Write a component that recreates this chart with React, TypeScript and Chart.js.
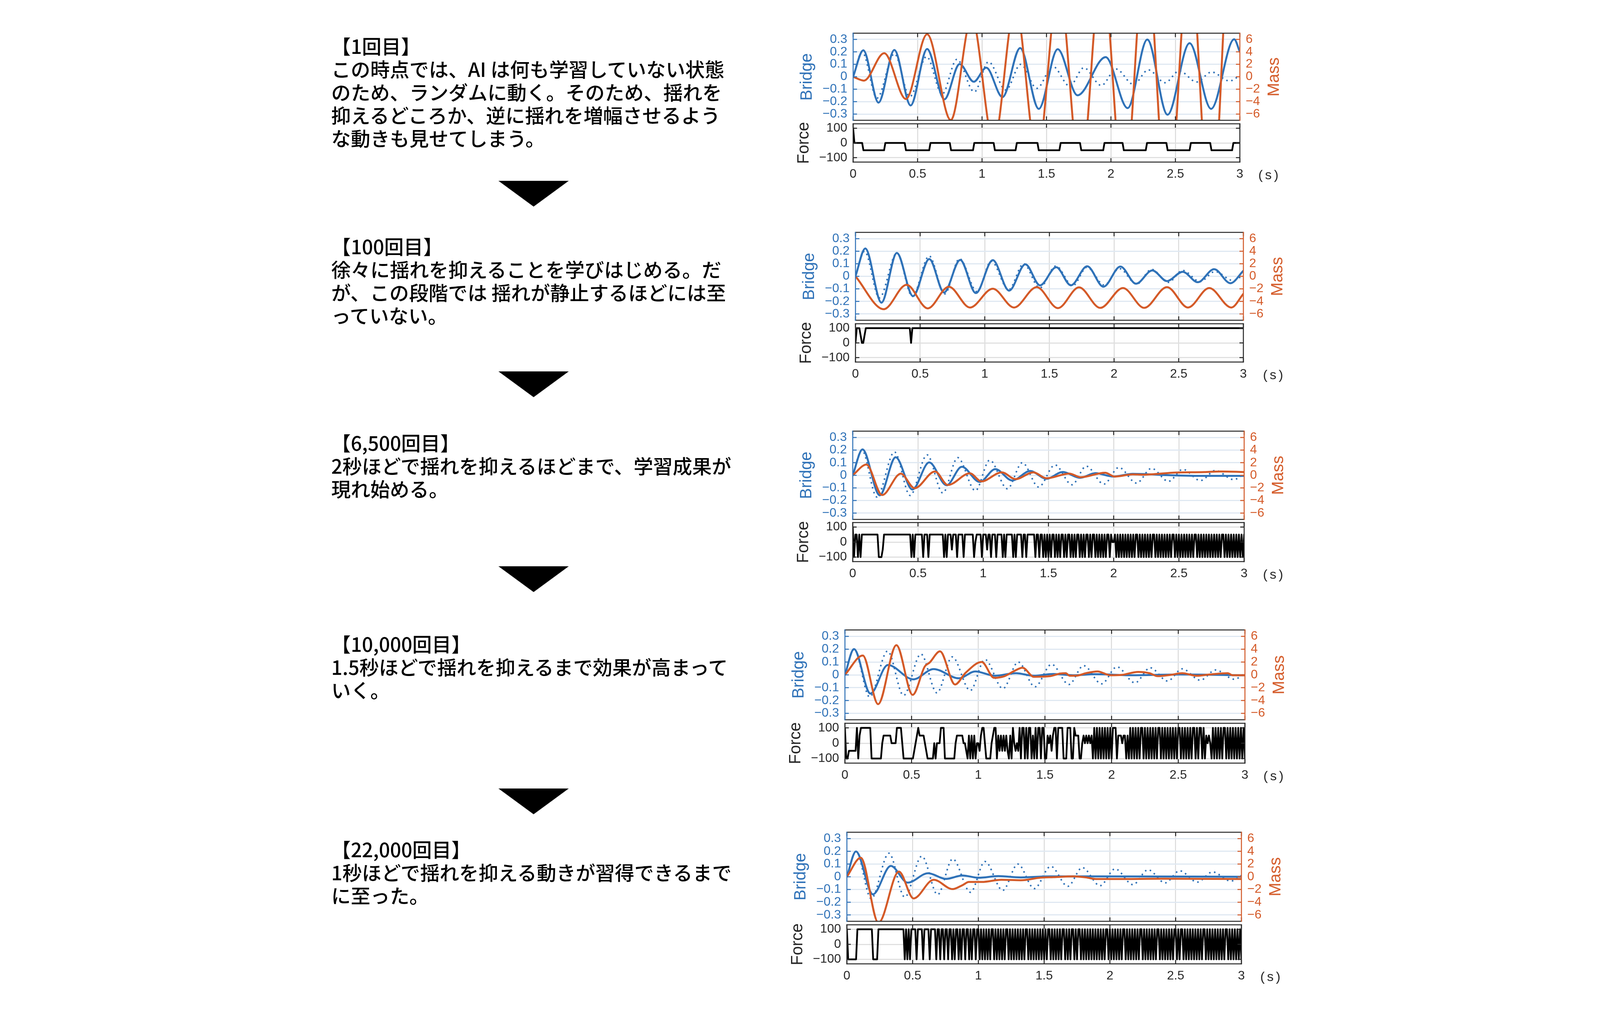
import React, { useEffect, useRef } from "react";
import { Chart, registerables } from "chart.js";

Chart.register(...registerables);

type Pt = [number, number];

// ---------------- data ----------------
const TIME_TICKS = [0, 0.5, 1, 1.5, 2, 2.5, 3];
const BRIDGE_TICKS = [-0.3, -0.2, -0.1, 0, 0.1, 0.2, 0.3];
const MASS_TICKS = [-6, -4, -2, 0, 2, 4, 6];
const FORCE_TICKS = [-100, 0, 100];
const TIME_RANGE = [0, 3];
const BRIDGE_RANGE = [-0.35, 0.35];
const MASS_RANGE = [-7, 7];
const FORCE_RANGE = [-130, 130];
const FORCE_SAMPLE_DT = 0.01;
const FORCE_LEVELS: Record<string, number> = { H: 100, h: 50, Z: 0, l: -50, L: -100 };

// bridge response without control (dotted, same in every panel)
const UNCONTROLLED: Pt[] = [
  [0, 0], [0.07, 0.2], [0.185, -0.172], [0.32, 0.185], [0.44, -0.16], [0.57, 0.162],
  [0.69, -0.14], [0.805, 0.14], [0.94, -0.122], [1.05, 0.12], [1.185, -0.107], [1.3, 0.1],
  [1.425, -0.093], [1.55, 0.082], [1.68, -0.075], [1.79, 0.072], [1.925, -0.07], [2.04, 0.062],
  [2.175, -0.062], [2.29, 0.055], [2.42, -0.048], [2.53, 0.047], [2.665, -0.042], [2.78, 0.038],
  [2.92, -0.034], [3.0, 0.01],
];

// trial 1
const BRIDGE_1: Pt[] = [
  [0, 0], [0.079, 0.213], [0.197, -0.208], [0.32, 0.215], [0.446, -0.231], [0.574, 0.223],
  [0.708, -0.182], [0.826, 0.102], [0.936, -0.04], [1.033, 0.073], [1.159, -0.164], [1.296, 0.231],
  [1.44, -0.258], [1.587, 0.221], [1.741, -0.149], [1.959, 0.158], [2.13, -0.252], [2.282, 0.299],
  [2.439, -0.305], [2.61, 0.27], [2.777, -0.258], [2.956, 0.301], [3.0, 0.2],
];
const MASS_1: Pt[] = [
  [0, 0], [0.084, -0.62], [0.241, 3.78], [0.41, -3.58], [0.574, 6.82], [0.758, -6.96],
  [0.92, 9.5], [1.09, -10.5], [1.258, 11.5], [1.428, -13], [1.595, 15], [1.764, -16],
  [1.93, 18], [2.1, -19], [2.27, 21], [2.44, -22], [2.61, 20], [2.775, -24], [2.94, 26], [3.0, 14],
];
const FORCE_1 = [
  "HZZZZZZZll", "llllllllll", "lllllZZZZZ", "ZZZZZZZZZZ", "Zlllllllll", "llllllllll",
  "ZZZZZZZZZZ", "ZZZZZZllll", "llllllllll", "llllZZZZZZ", "ZZZZZZZZZZ", "llllllllll",
  "lllllllZZZ", "ZZZZZZZZZZ", "ZZZZllllll", "llllllllll", "lZZZZZZZZZ", "ZZZZZZZlll",
  "llllllllll", "lllllZZZZZ", "ZZZZZZZZZZ", "llllllllll", "llllllllZZ", "ZZZZZZZZZZ",
  "ZZZZllllll", "llllllllll", "llZZZZZZZZ", "ZZZZZZZZll", "llllllllll", "lllllZZZZZ", "Z",
].join("");

// trial 100
const BRIDGE_2: Pt[] = [
  [0, 0], [0.076, 0.222], [0.201, -0.21], [0.32, 0.186], [0.445, -0.158], [0.571, 0.138],
  [0.685, -0.129], [0.81, 0.131], [0.931, -0.134], [1.062, 0.129], [1.188, -0.114], [1.314, 0.096],
  [1.427, -0.072], [1.553, 0.072], [1.666, -0.072], [1.792, 0.08], [1.918, -0.083], [2.049, 0.078],
  [2.17, -0.059], [2.296, 0.047], [2.409, -0.038], [2.53, 0.036], [2.648, -0.047], [2.774, 0.057],
  [2.9, -0.055], [3.0, 0.044],
];
const MASS_2: Pt[] = [
  [0, 0], [0.219, -5.24], [0.395, -1.35], [0.559, -5.11], [0.722, -1.66], [0.886, -4.97],
  [1.062, -1.97], [1.226, -4.97], [1.402, -1.72], [1.566, -5.07], [1.729, -1.76], [1.893, -5.03],
  [2.069, -1.86], [2.233, -5.03], [2.409, -1.72], [2.572, -4.97], [2.736, -1.86], [2.907, -4.97],
  [3.0, -2.8],
];
const FORCE_2 = [
  "ZHHHhZZhHH", "HHHHHHHHHH", "HHHHHHHHHH", "HHHHHHHHHH", "HHHZHHHHHH", "HHHHHHHHHH",
  "HHHHHHHHHH", "HHHHHHHHHH", "HHHHHHHHHH", "HHHHHHHHHH", "HHHHHHHHHH", "HHHHHHHHHH",
  "HHHHHHHHHH", "HHHHHHHHHH", "HHHHHHHHHH", "HHHHHHHHHH", "HHHHHHHHHH", "HHHHHHHHHH",
  "HHHHHHHHHH", "HHHHHHHHHH", "HHHHHHHHHH", "HHHHHHHHHH", "HHHHHHHHHH", "HHHHHHHHHH",
  "HHHHHHHHHH", "HHHHHHHHHH", "HHHHHHHHHH", "HHHHHHHHHH", "HHHHHHHHHH", "HHHHHHHHHH", "H",
].join("");

// trial 6,500
const BRIDGE_3: Pt[] = [
  [0, 0], [0.075, 0.205], [0.207, -0.159], [0.329, 0.143], [0.457, -0.113], [0.586, 0.102],
  [0.719, -0.079], [0.836, 0.067], [0.973, -0.053], [1.093, 0.049], [1.223, -0.041], [1.36, 0.034],
  [1.485, -0.028], [1.61, 0.026], [1.742, -0.02], [1.86, 0.017], [1.997, -0.01], [2.146, 0.012],
  [2.446, 0.0], [2.695, -0.005], [3.0, -0.005],
];
const MASS_3: Pt[] = [
  [0, 0], [0.105, 1.7], [0.225, -3.13], [0.369, 0.27], [0.474, -2.05], [0.631, 0.61],
  [0.729, -1.54], [0.898, 0.31], [0.986, -0.96], [1.143, 0.47], [1.248, -0.61], [1.385, 0.47],
  [1.485, -0.47], [1.66, 0.27], [1.747, -0.31], [1.934, 0.41], [2.009, -0.2], [2.146, 0.14],
  [2.22, 0.1], [2.32, 0.2], [2.446, 0.41], [2.695, 0.51], [2.82, 0.61], [3.0, 0.51],
];
const FORCE_3 = [
  "HLhhLhLhhh", "hhhhhhhhhh", "LLLlhhhhhh", "hhhhhhhhhh", "hhhhhLhLhh", "hhhhLhhhLh",
  "hhhhhhhhhh", "LhLhhhlhhh", "LhhhhLhhhh", "hhhLZhhhhL", "hhhlhhLhhh", "LhhhhLhLhh",
  "hhhLhLhhhh", "LhhLhhhhhh", "LhhLhhLhLh", "LhLhhLhLhL", "hhLhLhhLhL", "hLhhLhLhLh",
  "hLhLhhLhLh", "LhLhLhhLhZ", "ZhLhLhLhLh", "LhLhLhLhhL", "hLhLhLhLhL", "hhLhLhLhLh",
  "LhLhLhhLhL", "hLhLhLhLhL", "hLhhLhLhLh", "LhLhLhLhLh", "LhLhhLhLhL", "hLhLhLhLhL", "h",
].join("");

// trial 10,000
const BRIDGE_4: Pt[] = [
  [0, 0], [0.068, 0.201], [0.191, -0.146], [0.322, 0.077], [0.513, -0.035], [0.665, 0.045],
  [0.855, -0.027], [0.977, 0.027], [1.124, -0.007], [1.283, 0.013], [1.417, -0.007], [1.564, 0.007],
  [1.71, -0.003], [1.88, 0.005], [2.15, -0.003], [2.517, 0.003], [3.0, -0.003],
];
const MASS_4: Pt[] = [
  [0, 0], [0.134, 3.02], [0.249, -4.56], [0.386, 4.62], [0.508, -3.12], [0.599, 1.31],
  [0.635, 1.91], [0.713, 3.66], [0.826, -1.51], [0.904, 0.3], [1.026, 2.01], [1.119, -0.46],
  [1.197, -0.2], [1.27, 0.6], [1.332, 1.11], [1.417, -0.3], [1.539, -0.2], [1.613, 0.2],
  [1.656, 0.26], [1.686, -0.14], [1.735, -0.14], [1.808, 0.26], [1.894, 0.54], [1.991, -0.06],
  [2.077, 0], [2.199, 0.46], [2.284, 0.26], [2.345, -0.2], [2.443, 0], [2.529, 0.26],
  [2.639, -0.14], [2.736, 0.06], [2.871, 0.26], [2.907, -0.06], [3.0, -0.06],
];
const FORCE_4 = [
  "HLLllllllH", "LhHHHHHHHH", "LLLLLLLLZh", "hhhhhZZZZH", "HHHZLLLLLL", "LLlZhHhhhh",
  "ZlLLLLLZLZ", "ZZHHHLLLLL", "LLLZhhhhhZ", "ZlLhLhLhLZ", "ZlhHHZLLLL", "ZhHHLhlhlh",
  "lhlLhLHZlZ", "lHLHHLHLHH", "LhLHLHHLHH", "LLhZhlhHHL", "HHHHLLLHHH", "LLHhhhLLZh",
  "ZhZhZhLHLH", "LHLHLHLHLH", "LHHHLhhhZh", "hLhLHLHLHL", "HLHHLHLHLH", "LHLHLHHLHL",
  "HLHLHLHLHL", "HHLHLHLHLH", "LHHLHLHHLH", "LhZhZLHLHL", "HLHLHHLHLH", "LHLHLHLHLH", "L",
].join("");

// trial 22,000
const BRIDGE_5: Pt[] = [
  [0, 0], [0.069, 0.199], [0.198, -0.138], [0.334, 0.085], [0.463, -0.046], [0.618, 0.028],
  [0.754, -0.017], [0.878, 0.01], [1.002, -0.008], [1.15, 0.005], [1.323, -0.005], [1.546, 0.003],
  [1.917, 0.003], [3.0, 0],
];
const MASS_5: Pt[] = [
  [0, 0], [0.106, 3.0], [0.24, -7.24], [0.396, 0.82], [0.507, -3.41], [0.66, -0.47],
  [0.804, -1.94], [0.878, -1.33], [0.928, -0.82], [1.026, -0.82], [1.175, -0.47], [1.323, -0.55],
  [1.472, -0.14], [1.571, -0.06], [1.719, 0.06], [1.818, -0.1], [1.892, -0.35], [2.164, -0.35],
  [2.411, -0.31], [3.0, -0.35],
];
const FORCE_5 = [
  "HLLLLLLLHH", "HHHHHHHHHH", "LLLLHHHHHH", "HHHHHHHHHH", "HHHHLHLHLH", "HHHLHHHHLH",
  "HHHLHHHHLH", "HLHHLHHLHH", "LHLHHLHLHH", "LHHLHLHHLH", "HLHLHLHLHL", "HHLHLHLHLH",
  "LHHLHLHLHL", "HLHLHLHHLH", "LHLHLHLHLH", "LHLHHLHLHL", "HLHLHHLHLH", "LHHLHLHHLH",
  "LHLHLHLHLH", "LHLHLHLHHL", "HLHLHLHLHL", "HHLHLHLHLH", "LHLHHLHLHL", "HLHLHLHHLH",
  "LHLHLHLHLH", "HLHLHHLHLH", "LHLHLHLHLH", "LHHLHLHLHL", "HLHLHLHLHH", "LHLHLHLHLH", "L",
].join("");

const TEXT_1 = [
  "【1回目】",
  "この時点では、AI は何も学習していない状態",
  "のため、ランダムに動く。そのため、揺れを",
  "抑えるどころか、逆に揺れを増幅させるよう",
  "な動きも見せてしまう。",
];
const TEXT_2 = [
  "【100回目】",
  "徐々に揺れを抑えることを学びはじめる。だ",
  "が、この段階では 揺れが静止するほどには至",
  "っていない。",
];
const TEXT_3 = ["【6,500回目】", "2秒ほどで揺れを抑えるほどまで、学習成果が", "現れ始める。"];
const TEXT_4 = ["【10,000回目】", "1.5秒ほどで揺れを抑えるまで効果が高まって", "いく。"];
const TEXT_5 = ["【22,000回目】", "1秒ほどで揺れを抑える動きが習得できるまで", "に至った。"];

const AXIS_TITLES = { bridge: "Bridge", mass: "Mass", force: "Force", unit: "(s)" };

// ---------------- styles / layout ----------------
const BLUE = "#2f72b8";
const ORANGE = "#d45a28";
const DARK = "#262626";
const GRID_BLUE = "#dfe8f2";
const GRID_GRAY = "#dadada";
const GRID_FORCE = "#e0e0e0";
const TICK_FONT = { family: "'Liberation Sans', Arial, sans-serif", size: 32 };
const AXW = 150;
const PADV = 20;
const XAXH = 70;

type Geo = { L: number; R: number; T1: number; B1: number; T2: number; B2: number; sX: number };
type Spec = { geo: Geo; bridge: Pt[]; mass: Pt[]; force: string; text: string[]; textTop: number };

const SPECS: Spec[] = [
  { geo: { L: 2184, R: 3174, T1: 85, B1: 308, T2: 317, B2: 415, sX: 3250 }, bridge: BRIDGE_1, mass: MASS_1, force: FORCE_1, text: TEXT_1, textTop: 87 },
  { geo: { L: 2190, R: 3183, T1: 595, B1: 820, T2: 829, B2: 927, sX: 3262 }, bridge: BRIDGE_2, mass: MASS_2, force: FORCE_2, text: TEXT_2, textTop: 600 },
  { geo: { L: 2183, R: 3185, T1: 1104, B1: 1330, T2: 1338, B2: 1438, sX: 3262 }, bridge: BRIDGE_3, mass: MASS_3, force: FORCE_3, text: TEXT_3, textTop: 1103 },
  { geo: { L: 2163, R: 3187, T1: 1613, B1: 1843, T2: 1852, B2: 1954, sX: 3263 }, bridge: BRIDGE_4, mass: MASS_4, force: FORCE_4, text: TEXT_4, textTop: 1618 },
  { geo: { L: 2168, R: 3178, T1: 2131, B1: 2359, T2: 2368, B2: 2468, sX: 3255 }, bridge: BRIDGE_5, mass: MASS_5, force: FORCE_5, text: TEXT_5, textTop: 2144 },
];
const TRIANGLE_TOPS = [463, 951, 1450, 2019];

const fmt = (v: number | string) => {
  const n = Number(v);
  return n < 0 ? "\u2212" + String(-n) : String(n);
};

const boxPlugin = {
  id: "matBox",
  afterDatasetsDraw(chart: any, _args: any, o: any) {
    const { ctx, chartArea: a, scales } = chart;
    const TL = 10;
    const seg = (x1: number, y1: number, x2: number, y2: number, c: string) => {
      ctx.strokeStyle = c;
      ctx.beginPath();
      ctx.moveTo(x1, y1);
      ctx.lineTo(x2, y2);
      ctx.stroke();
    };
    ctx.save();
    ctx.lineWidth = 2.5;
    ctx.lineCap = "butt";
    const xs = scales.x;
    for (const t of xs.ticks) {
      const px = xs.getPixelForValue(t.value);
      seg(px, a.top, px, a.top + TL, DARK);
      seg(px, a.bottom, px, a.bottom - TL, DARK);
    }
    const yl = scales[o.leftId];
    for (const t of yl.ticks) {
      const py = yl.getPixelForValue(t.value);
      seg(a.left, py, a.left + TL, py, o.leftColor);
    }
    const yr = scales[o.rightId];
    for (const t of yr.ticks) {
      const py = yr.getPixelForValue(t.value);
      seg(a.right, py, a.right - TL, py, o.rightColor);
    }
    ctx.lineCap = "square";
    seg(a.left, a.top, a.right, a.top, DARK);
    seg(a.left, a.bottom, a.right, a.bottom, DARK);
    seg(a.left, a.top, a.left, a.bottom, o.leftColor);
    seg(a.right, a.top, a.right, a.bottom, o.rightColor);
    ctx.restore();
  },
};

const lineDs = (pts: Pt[], axis: string, color: string, width: number) => ({
  data: pts.map(([x, y]) => ({ x, y })),
  yAxisID: axis,
  borderColor: color,
  borderWidth: width,
  pointRadius: 0,
  fill: false,
  cubicInterpolationMode: "monotone",
  borderJoinStyle: "round",
  borderCapStyle: "round",
});

const setTicks = (vals: number[]) => (s: any) => {
  s.ticks = vals.map((v) => ({ value: v }));
};

const xScale = (labels: boolean) => ({
  type: "linear",
  position: "bottom",
  min: TIME_RANGE[0],
  max: TIME_RANGE[1],
  afterBuildTicks: setTicks(TIME_TICKS),
  ticks: {
    display: labels,
    color: DARK,
    font: TICK_FONT,
    padding: 12,
    autoSkip: false,
    maxRotation: 0,
    callback: fmt,
  },
  grid: { color: GRID_GRAY, lineWidth: 2.5, drawTicks: false },
  border: { display: false },
  afterFit: (s: any) => {
    s.height = labels ? XAXH : 0;
    s.paddingLeft = 0;
    s.paddingRight = 0;
  },
});

const yScale = (pos: string, range: number[], ticks: number[], color: string, grid: any) => ({
  type: "linear",
  position: pos,
  min: range[0],
  max: range[1],
  afterBuildTicks: setTicks(ticks),
  ticks: { color, font: TICK_FONT, padding: 15, autoSkip: false, callback: fmt },
  grid,
  border: { display: false },
  afterFit: (s: any) => {
    s.width = AXW;
    s.paddingTop = 0;
    s.paddingBottom = 0;
  },
});

function topConfig(spec: Spec): any {
  return {
    type: "line",
    data: {
      datasets: [
        lineDs(spec.mass, "yM", ORANGE, 5),
        lineDs(spec.bridge, "yB", BLUE, 5),
        { ...lineDs(UNCONTROLLED, "yB", BLUE, 4), borderDash: [4, 9], borderCapStyle: "butt" },
      ],
    },
    options: {
      animation: false,
      responsive: false,
      devicePixelRatio: 1,
      events: [],
      layout: { padding: { top: PADV, bottom: PADV, left: 0, right: 0 } },
      plugins: {
        legend: { display: false },
        tooltip: { enabled: false },
        matBox: { leftId: "yB", rightId: "yM", leftColor: BLUE, rightColor: ORANGE },
      },
      scales: {
        x: xScale(false),
        yB: yScale("left", BRIDGE_RANGE, BRIDGE_TICKS, BLUE, { color: GRID_BLUE, lineWidth: 3, drawTicks: false }),
        yM: yScale("right", MASS_RANGE, MASS_TICKS, ORANGE, { display: false, drawTicks: false }),
      },
    },
    plugins: [boxPlugin],
  };
}

function forceConfig(spec: Spec): any {
  return {
    type: "line",
    data: {
      datasets: [
        {
          data: spec.force.split("").map((c, i) => ({ x: i * FORCE_SAMPLE_DT, y: FORCE_LEVELS[c] })),
          yAxisID: "y",
          borderColor: "#000000",
          borderWidth: 4.5,
          pointRadius: 0,
          fill: false,
          tension: 0,
          borderJoinStyle: "round",
          borderCapStyle: "round",
        },
      ],
    },
    options: {
      animation: false,
      responsive: false,
      devicePixelRatio: 1,
      events: [],
      layout: { padding: { top: PADV, bottom: 0, left: 0, right: AXW } },
      plugins: {
        legend: { display: false },
        tooltip: { enabled: false },
        matBox: { leftId: "y", rightId: "y", leftColor: DARK, rightColor: DARK },
      },
      scales: {
        x: xScale(true),
        y: yScale("left", FORCE_RANGE, FORCE_TICKS, DARK, { color: GRID_FORCE, lineWidth: 3, drawTicks: false }),
      },
    },
    plugins: [boxPlugin],
  };
}

const titleStyle = (cx: number, cy: number, color: string): React.CSSProperties => ({
  position: "absolute",
  left: cx,
  top: cy,
  transform: "translate(-50%, -50%) rotate(-90deg)",
  font: "42px 'Liberation Sans', Arial, sans-serif",
  lineHeight: "1",
  color,
  whiteSpace: "nowrap",
});

function TrialChart({ spec }: { spec: Spec }) {
  const topRef = useRef<HTMLCanvasElement>(null);
  const botRef = useRef<HTMLCanvasElement>(null);
  useEffect(() => {
    const c1 = new Chart(topRef.current as HTMLCanvasElement, topConfig(spec));
    const c2 = new Chart(botRef.current as HTMLCanvasElement, forceConfig(spec));
    return () => {
      c1.destroy();
      c2.destroy();
    };
  }, [spec]);
  const g = spec.geo;
  const w = g.R - g.L + 2 * AXW;
  const h1 = g.B1 - g.T1 + 2 * PADV;
  const h2 = g.B2 - g.T2 + PADV + XAXH;
  return (
    <>
      <canvas
        ref={topRef}
        width={w}
        height={h1}
        style={{ position: "absolute", left: g.L - AXW, top: g.T1 - PADV, width: w, height: h1, display: "block" }}
      />
      <canvas
        ref={botRef}
        width={w}
        height={h2}
        style={{ position: "absolute", left: g.L - AXW, top: g.T2 - PADV, width: w, height: h2, display: "block" }}
      />
      <div style={titleStyle(g.L - 120, (g.T1 + g.B1) / 2, BLUE)}>{AXIS_TITLES.bridge}</div>
      <div style={titleStyle(g.R + 86, (g.T1 + g.B1) / 2, ORANGE)}>{AXIS_TITLES.mass}</div>
      <div style={titleStyle(g.L - 128, (g.T2 + g.B2) / 2, DARK)}>{AXIS_TITLES.force}</div>
      <div
        style={{
          position: "absolute",
          left: g.sX,
          top: g.B2 + 32,
          transform: "translate(-50%, -50%)",
          font: "34px 'Liberation Sans', Arial, sans-serif",
          letterSpacing: "6px",
          lineHeight: "1",
          color: DARK,
          whiteSpace: "nowrap",
        }}
      >
        {AXIS_TITLES.unit}
      </div>
    </>
  );
}

function TextBlock({ top, lines }: { top: number; lines: string[] }) {
  return (
    <div
      style={{
        position: "absolute",
        left: 848,
        top,
        fontFamily: "'Noto Sans CJK JP', sans-serif",
        fontSize: 50,
        fontWeight: 500,
        lineHeight: "59px",
        color: "#000",
        whiteSpace: "pre",
      }}
    >
      {lines.map((l, i) => (
        <div key={i}>{l}</div>
      ))}
    </div>
  );
}

export default function App() {
  return (
    <div
      style={{
        position: "absolute",
        left: 0,
        top: 0,
        width: 4167,
        height: 2622,
        background: "#ffffff",
        overflow: "hidden",
      }}
    >
      {SPECS.map((s, i) => (
        <TextBlock key={"t" + i} top={s.textTop} lines={s.text} />
      ))}
      {TRIANGLE_TOPS.map((t, i) => (
        <div
          key={"tri" + i}
          style={{
            position: "absolute",
            left: 1366 - 90,
            top: t,
            width: 0,
            height: 0,
            borderLeft: "90px solid transparent",
            borderRight: "90px solid transparent",
            borderTop: "66px solid #000",
          }}
        />
      ))}
      {SPECS.map((s, i) => (
        <TrialChart key={"c" + i} spec={s} />
      ))}
    </div>
  );
}
